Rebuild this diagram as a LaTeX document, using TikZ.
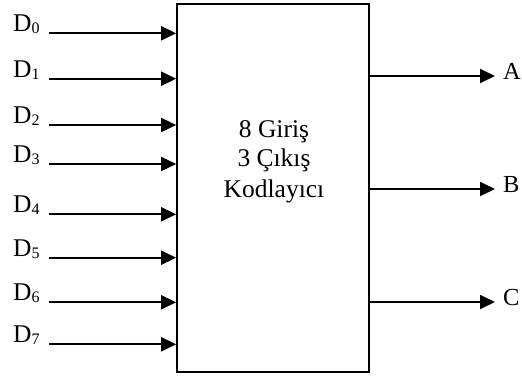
\documentclass[tikz,border=0pt]{standalone}
\usepackage{fontspec}
\setmainfont{Liberation Serif}
\usetikzlibrary{arrows.meta}
\newcommand{\dsub}[1]{D\raisebox{-2pt}{\fontsize{16}{16}\selectfont #1}}
\begin{document}
\begin{tikzpicture}[x=1pt,y=-1pt,
  wire/.style={line width=1.8pt,-{Triangle[length=15pt,width=14pt]}},
  txt/.style={font=\fontsize{25.5}{30}\selectfont,inner sep=0pt},
  inlbl/.style={txt,anchor=base west},
  outlbl/.style={font=\fontsize{24.5}{30}\selectfont,inner sep=0pt,anchor=base west}]
\useasboundingbox (0,0) rectangle (522,375);
\node[draw,line width=1.7pt,minimum width=192pt,minimum height=368pt,inner sep=0pt] (enc) at (273,188) {};
\node[txt,anchor=base] (t1) at (274,137) {8 Giriş};
\node[txt,anchor=base] (t2) at (274,166) {3 Çıkış};
\node[txt,anchor=base] (t3) at (274,197) {Kodlayıcı};
\foreach \i/\y in {0/33.3,1/78.7,2/125,3/164,4/214.3,5/257.7,6/302.3,7/344.3}{
  \coordinate (i\i) at (49,\y);
  \node[inlbl] (d\i) at (13,\y-1.5) {\dsub{\i}};
  \draw[wire] (i\i) -- (enc.west |- i\i);
}
\foreach \n/\y in {A/76,B/189,C/302}{
  \coordinate (o\n) at (495,\y);
  \draw[wire] (enc.east |- o\n) -- (o\n);
  \node[outlbl] (l\n) at (503,\y+3) {\n};
}
\end{tikzpicture}
\end{document}
